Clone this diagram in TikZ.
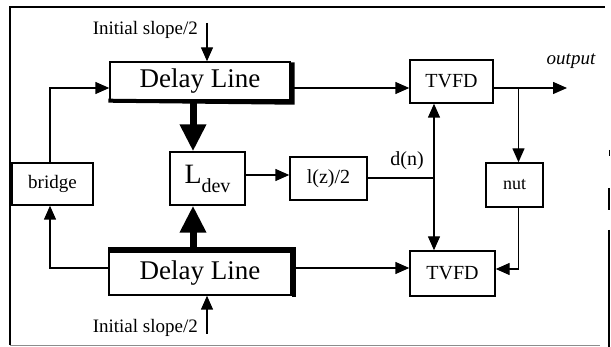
\documentclass[tikz,border=0pt]{standalone}
\usepackage{fontspec}
\setmainfont{Liberation Serif}
\usetikzlibrary{arrows.meta}
\begin{document}
\begin{tikzpicture}[x=1pt,y=-1pt,
  box/.style={draw,line width=1.4pt,inner sep=0pt,anchor=center},
  arr/.style={line width=1.4pt,-{Triangle[length=14pt,width=12pt]}},
  bigarr/.style={line width=7pt,-{Triangle[length=27pt,width=25pt]}},
  frame/.style={line width=1.3pt},
  lbl/.style={inner sep=0pt}]
\useasboundingbox (0,0) rectangle (611,347);
% frame
\draw[frame] (10,345) -- (10,7) -- (605,7);
\draw[line width=0.8pt,black!45] (10,345) -- (600,345);
\draw[line width=1.3pt] (609,230) -- (609,347);
\draw[line width=1.3pt] (609,188) -- (609,210);
\draw[line width=1pt] (609,150) -- (609,156);
% boxes
\node[box,minimum width=180pt,minimum height=38pt] (dl1) at (200,81)
  {\fontsize{27}{27}\selectfont Delay Line};
\node[box,minimum width=182pt,minimum height=43pt] (dl2) at (200,273.5)
  {\fontsize{27}{27}\selectfont Delay Line};
\draw[line width=4pt] ([xshift=-1pt]dl1.south west) -- ([xshift=2pt,yshift=-2pt]dl1.south east) -- ([xshift=2pt,yshift=-1pt]dl1.north east);
\draw[line width=4pt] ([xshift=2pt,yshift=-1pt]dl2.south east) -- ([xshift=2pt,yshift=2pt]dl2.north east) -- ([yshift=2pt]dl2.north west);
\node[box,minimum width=75pt,minimum height=53pt] (ldev) at (207.5,178.5)
  {\fontsize{28}{28}\selectfont L\raisebox{-9pt}{\fontsize{20}{20}\selectfont dev}};
\node[box,minimum width=77pt,minimum height=43pt] (lz) at (328.5,178.5)
  {\fontsize{20}{20}\selectfont l(z)/2};
\node[box,minimum width=81pt,minimum height=42pt] (bridge) at (52.5,184)
  {\fontsize{19}{19}\selectfont bridge};
\node[box,minimum width=83pt,minimum height=43pt] (tv1) at (451.5,81.5)
  {\fontsize{20}{20}\selectfont TVFD};
\node[box,minimum width=85pt,minimum height=45pt] (tv2) at (452.5,273.5)
  {\fontsize{20}{20}\selectfont TVFD};
\node[box,minimum width=57pt,minimum height=44pt] (nut) at (514.5,185)
  {\fontsize{18}{18}\selectfont nut};
% free ends
\coordinate (s1) at (207,23);
\coordinate (s2) at (207,334);
\coordinate (out) at (567,88);
\node[lbl,anchor=east] (t1) at (198,30) {\fontsize{19}{19}\selectfont Initial slope/2};
\node[lbl,anchor=east] (t2) at (198,328) {\fontsize{19}{19}\selectfont Initial slope/2};
\node[lbl] (olab) at (571,61) {\fontsize{19}{19}\selectfont\itshape output};
% connectors
\draw[arr] (s1) -- (dl1.north -| s1);
\draw[arr] (s2) -- (dl2.south -| s2);
\draw[arr] ([xshift=-2.5pt]bridge.north) |- ([yshift=-7pt]dl1.west);
\draw[arr] ([yshift=5.5pt]dl2.west) -| ([xshift=-2.5pt]bridge.south);
\draw[arr] ([yshift=-7pt]dl1.east) coordinate (a1) -- (tv1.west |- a1);
\draw[arr] ([yshift=5.5pt]dl2.east) coordinate (a2) -- (tv2.west |- a2);
\draw[arr] (tv1.east |- a1) -- (out);
\coordinate (br) at ([xshift=4pt]nut.north);
\draw[arr] (br |- a1) -- (br);
\draw[arr] ([xshift=4pt]nut.south) |- ([yshift=4.5pt]tv2.east);
\draw[arr] ([yshift=3.5pt]ldev.east) coordinate (a3) -- (lz.west |- a3);
\coordinate (j) at (434,178);
\draw[line width=1.4pt] (lz.east |- j) -- (j);
\draw[arr] (j) -- (tv1.south -| j);
\draw[arr] (j) -- (tv2.north -| j);
\node[lbl] (dn) at (407,161) {\fontsize{20}{20}\selectfont d(n)};
\coordinate (c1) at (193,0);
\draw[bigarr] (dl1.south -| c1) -- (ldev.north -| c1);
\draw[bigarr] (dl2.north -| c1) -- (ldev.south -| c1);
\end{tikzpicture}
\end{document}
